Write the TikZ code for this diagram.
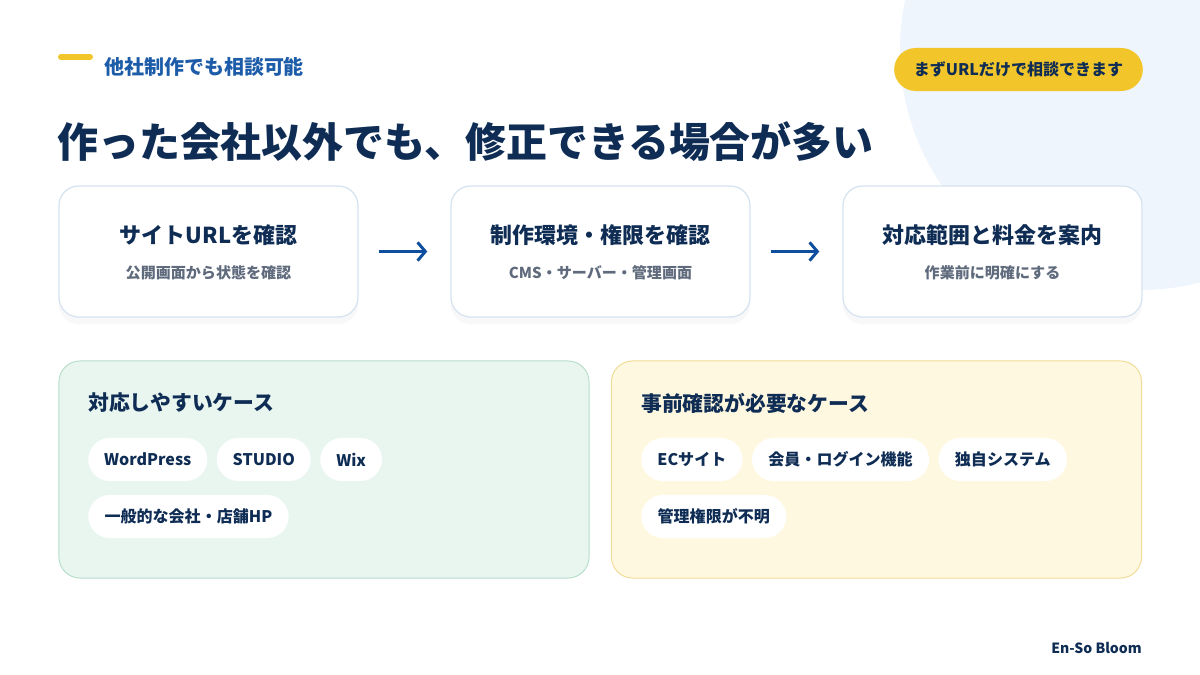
\documentclass[tikz,border=0pt]{standalone}
\usepackage{fontspec}
\setmainfont{Noto Sans CJK JP}
\usetikzlibrary{positioning,shapes.misc,arrows.meta,shadows}

\definecolor{navy}{HTML}{0F2D54}
\definecolor{subblue}{HTML}{1C5CA8}
\definecolor{arrowblue}{HTML}{0D4E9E}
\definecolor{softgray}{HTML}{5F6B7C}
\definecolor{accent}{HTML}{F2C62B}
\definecolor{bgcircle}{HTML}{EEF5FD}
\definecolor{cardline}{HTML}{D6E4F2}
\definecolor{easyfill}{HTML}{E9F6F0}
\definecolor{easyline}{HTML}{B8DECC}
\definecolor{checkfill}{HTML}{FFF8E1}
\definecolor{checkline}{HTML}{F0DC96}

\begin{document}
\begin{tikzpicture}[x=0.025cm,y=-0.025cm,
  card/.style={draw=cardline, line width=0.9pt, fill=white, rounded corners=14pt,
    minimum width=7.475cm, minimum height=3.275cm,
    drop shadow={opacity=0.05, shadow xshift=0pt, shadow yshift=-5pt}},
  cardtitle/.style={font=\fontsize{15.6}{18}\selectfont\bfseries, text=navy},
  cardsub/.style={font=\fontsize{10.7}{13}\selectfont\bfseries, text=softgray},
  flow/.style={draw=arrowblue, line width=2.1pt, -{Straight Barb[length=5.5pt,width=13pt]},
    shorten <=14.2pt, shorten >=16.4pt},
  panel/.style={line width=0.7pt, rounded corners=15pt, minimum width=13.25cm, minimum height=5.425cm},
  paneltitle/.style={font=\fontsize{14.8}{18}\selectfont\bfseries, text=navy, anchor=west, inner sep=0pt},
  tag/.style={rounded rectangle, fill=white, minimum height=1.075cm, inner xsep=10.6pt,
    font=\fontsize{11.4}{14}\selectfont\bfseries, text=navy},
  pill/.style={rounded rectangle, fill=accent, minimum height=1.075cm, minimum width=6.45cm,
    font=\fontsize{11.4}{14}\selectfont\bfseries, text=navy}
]
\useasboundingbox (0,0) rectangle (1200,675);
\clip (0,0) rectangle (1200,675);

% background
\fill[white] (0,0) rectangle (1200,675);
\fill[bgcircle] (1140,50) circle (240);

% header
\draw[accent, line width=4.3pt, line cap=round] (61,57) -- (90,57);
\node[anchor=west, inner sep=0pt, text=subblue, font=\fontsize{14.2}{17}\selectfont\bfseries] (kicker) at (104,67) {他社制作でも相談可能};
\node[pill] (badge) at (1018.5,69.5) {まずURLだけで相談できます};
\node[anchor=west, inner sep=0pt, text=navy, font=\fontsize{29.1}{34}\selectfont\bfseries] (headline) at (57,142) {作った会社以外でも、修正できる場合が多い};

% steps
\node[card] (step1) at (208.5,251.5) {};
\node[card] (step2) at (600.5,251.5) {};
\node[card] (step3) at (992.5,251.5) {};
\node[cardtitle] (t1) at ([yshift=11.7pt]step1.center) {サイトURLを確認};
\node[cardsub] (s1) at ([yshift=-15.3pt]step1.center) {公開画面から状態を確認};
\node[cardtitle] (t2) at ([yshift=11.7pt]step2.center) {制作環境・権限を確認};
\node[cardsub] (s2) at ([yshift=-15.3pt]step2.center) {CMS・サーバー・管理画面};
\node[cardtitle] (t3) at ([yshift=11.7pt]step3.center) {対応範囲と料金を案内};
\node[cardsub] (s3) at ([yshift=-15.3pt]step3.center) {作業前に明確にする};
\draw[flow] (step1) -- (step2);
\draw[flow] (step2) -- (step3);

% cases
\node[panel, fill=easyfill, draw=easyline] (easy) at (324,469.5) {};
\node[panel, fill=checkfill, draw=checkline] (check) at (876.5,469.5) {};

\node[paneltitle] (easyhead) at (88,403) {対応しやすいケース};
\node[tag, anchor=west] (wp) at (88,459.5) {WordPress};
\node[tag, right=0.225cm of wp] (studio) {STUDIO};
\node[tag, right=0.225cm of studio] (wix) {Wix};
\node[tag, anchor=west] (corp) at (88,516.5) {一般的な会社・店舗HP};

\node[paneltitle] (checkhead) at (641,403) {事前確認が必要なケース};
\node[tag, anchor=west] (ec) at (641,459.5) {ECサイト};
\node[tag, right=0.225cm of ec] (login) {会員・ログイン機能};
\node[tag, right=0.225cm of login] (own) {独自システム};
\node[tag, anchor=west] (admin) at (641,516.5) {管理権限が不明};

% footer
\node[anchor=east, inner sep=0pt, text=navy, font=\fontsize{10}{12}\selectfont\bfseries] (brand) at (1142,648) {En-So Bloom};
\end{tikzpicture}
\end{document}
